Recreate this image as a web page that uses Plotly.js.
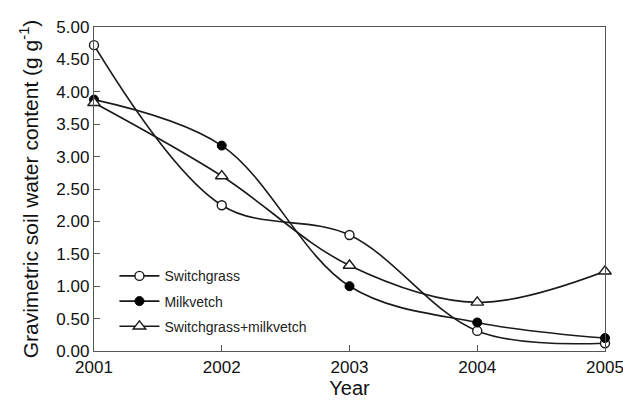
<!DOCTYPE html>
<html><head><meta charset="utf-8">
<script src="https://cdn.plot.ly/plotly-3.0.1.min.js"></script>
<style>html,body{margin:0;padding:0;background:#fff}#chart{width:623px;height:402px}</style>
</head><body><div id="chart"></div>
<script>
const years = [2001, 2002, 2003, 2004, 2005];
const switchgrass = [4.72, 2.25, 1.79, 0.31, 0.12];
const milkvetch = [3.88, 3.17, 1.00, 0.44, 0.20];
const mixture = [3.83, 2.70, 1.32, 0.75, 1.23];
const seriesNames = ['Switchgrass', 'Milkvetch', 'Switchgrass+milkvetch'];
const yTicks = [0, 0.5, 1, 1.5, 2, 2.5, 3, 3.5, 4, 4.5, 5];

const lineStyle = {color: '#1a1a1a', width: 1.6, shape: 'spline', smoothing: 1};
const traces = [
  {x: years, y: switchgrass, name: seriesNames[0], legendgroup: 'a', mode: 'lines+markers', line: lineStyle, cliponaxis: false,
   marker: {symbol: 'circle', size: 9, color: '#fff', line: {color: '#1a1a1a', width: 1.4}}},
  {x: years, y: milkvetch, name: seriesNames[1], legendgroup: 'b', mode: 'lines+markers', line: lineStyle, cliponaxis: false,
   marker: {symbol: 'circle', size: 9, color: '#000', line: {color: '#000', width: 1}}},
  {x: years, y: mixture, name: seriesNames[2], legendgroup: 'c', mode: 'lines+markers', line: lineStyle, cliponaxis: false,
   marker: {symbol: 'triangle-up', size: 11, color: '#fff', line: {color: '#1a1a1a', width: 1.4}}}
];

const layout = {
  width: 623, height: 402,
  margin: {l: 94, r: 18, t: 27, b: 51},
  paper_bgcolor: '#fff', plot_bgcolor: '#fff',
  font: {family: 'Liberation Sans, Arial, sans-serif', color: '#111'},
  showlegend: true,
  legend: {x: 0.04, y: 0.28, xanchor: 'left', yanchor: 'top', bgcolor: 'rgba(0,0,0,0)',
           font: {size: 14, color: '#222'}, traceorder: 'grouped', tracegroupgap: 4, itemwidth: 40},
  xaxis: {
    range: [2001, 2005], tickvals: years, ticktext: years.map(String),
    ticks: 'inside', ticklen: 6, tickcolor: '#555', tickwidth: 1,
    showline: true, linecolor: '#555', linewidth: 1.2, mirror: true,
    showgrid: false, zeroline: false, ticklabeloverflow: 'allow',
    tickfont: {size: 17, color: '#111'},
    title: {text: 'Year', font: {size: 20, color: '#111'}, standoff: 4}
  },
  yaxis: {
    range: [0, 5], tickvals: yTicks, tickformat: '.2f',
    ticks: 'inside', ticklen: 6, tickcolor: '#555', tickwidth: 1,
    showline: true, linecolor: '#555', linewidth: 1.2, mirror: true,
    showgrid: false, zeroline: false, ticklabeloverflow: 'allow',
    tickfont: {size: 17, color: '#111'},
    title: {text: 'Gravimetric soil water content (g g<sup>-1</sup>)', font: {size: 21, color: '#111'}, standoff: 12}
  }
};
Plotly.newPlot('chart', traces, layout, {displayModeBar: false, staticPlot: true});
</script>
</body></html>
